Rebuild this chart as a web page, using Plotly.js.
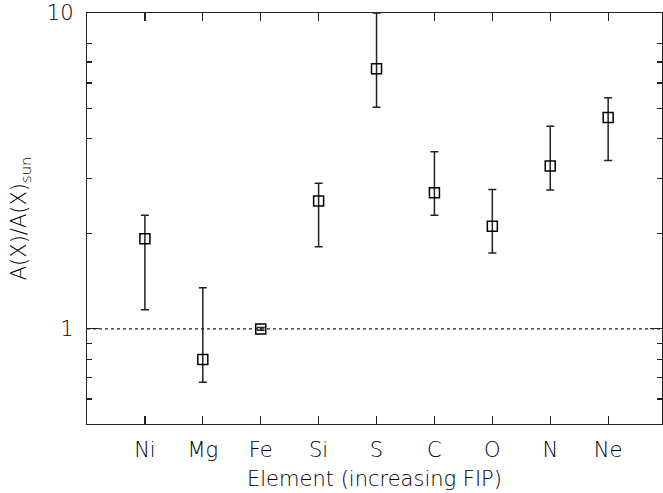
<!DOCTYPE html>
<html>
<head>
<meta charset="utf-8">
<script src="https://cdn.plot.ly/plotly-3.0.1.min.js"></script>
<style>html,body{margin:0;padding:0;background:#fff;}#chart{width:663px;height:493px;}</style>
</head>
<body>
<div id="chart"></div>
<script>
const elements = ["Ni", "Mg", "Fe", "Si", "S", "C", "O", "N", "Ne"];
const positions = [1, 2, 3, 4, 5, 6, 7, 8, 9];
const ratio = [1.93, 0.80, 1.00, 2.54, 6.66, 2.70, 2.115, 3.28, 4.67];
const upper = [2.29, 1.35, 1.01, 2.89, 10.0, 3.64, 2.76, 4.38, 5.39];
const lower = [1.15, 0.678, 0.99, 1.82, 5.03, 2.29, 1.74, 2.75, 3.41];
const yMajor = [1, 10];
const yMinor = [0.6, 0.7, 0.8, 0.9, 2, 3, 4, 5, 6, 7, 8];
const referenceLevel = 1;

const errPlus = ratio.map((v, i) => upper[i] - v);
const errMinus = ratio.map((v, i) => v - lower[i]);

const font = {family: "DejaVu Sans, sans-serif", size: 21, color: "#000", weight: 300};

const trace = {
  x: positions,
  y: ratio,
  type: "scatter",
  mode: "markers",
  marker: {symbol: "square-open", size: 10, color: "#000", line: {width: 1.5, color: "#000"}},
  error_y: {type: "data", symmetric: false, array: errPlus, arrayminus: errMinus,
            color: "#222", thickness: 1.5, width: 4},
  showlegend: false,
  hoverinfo: "none"
};

const layout = {
  width: 663, height: 493,
  margin: {l: 87, r: 1, t: 13, b: 69},
  paper_bgcolor: "#fff", plot_bgcolor: "#fff",
  font: font,
  showlegend: false,
  xaxis: {
    range: [0, 9.93],
    tickmode: "array", tickvals: positions, ticktext: elements,
    ticks: "inside", ticklen: 8, tickwidth: 1.2, tickcolor: "#222",
    showline: true, linecolor: "#222", linewidth: 1.2, mirror: "ticks",
    showgrid: false, zeroline: false,
    ticklabelstandoff: 7,
    title: {text: "Element (increasing FIP)", font: font, standoff: 9}
  },
  yaxis: {
    type: "log",
    range: [Math.log10(0.5), 1],
    tickmode: "array", tickvals: yMajor, ticktext: ["1", "10"],
    ticks: "inside", ticklen: 12, tickwidth: 1.2, tickcolor: "#222",
    minor: {tickmode: "array", tickvals: yMinor, ticks: "inside", ticklen: 5, tickwidth: 1.2, tickcolor: "#222", showgrid: false},
    showline: true, linecolor: "#222", linewidth: 1.2, mirror: "ticks",
    showgrid: false, zeroline: false,
    ticklabelstandoff: 8,
    title: {text: "A(X)/A(X)<sub>sun</sub>", font: font, standoff: 14}
  },
  shapes: [{
    type: "line", xref: "paper", x0: 0, x1: 1, yref: "y", y0: referenceLevel, y1: referenceLevel,
    line: {color: "#222", width: 1.2, dash: "dot"}, layer: "below"
  }]
};

Plotly.newPlot("chart", [trace], layout, {displayModeBar: false, staticPlot: true});
</script>
</body>
</html>
